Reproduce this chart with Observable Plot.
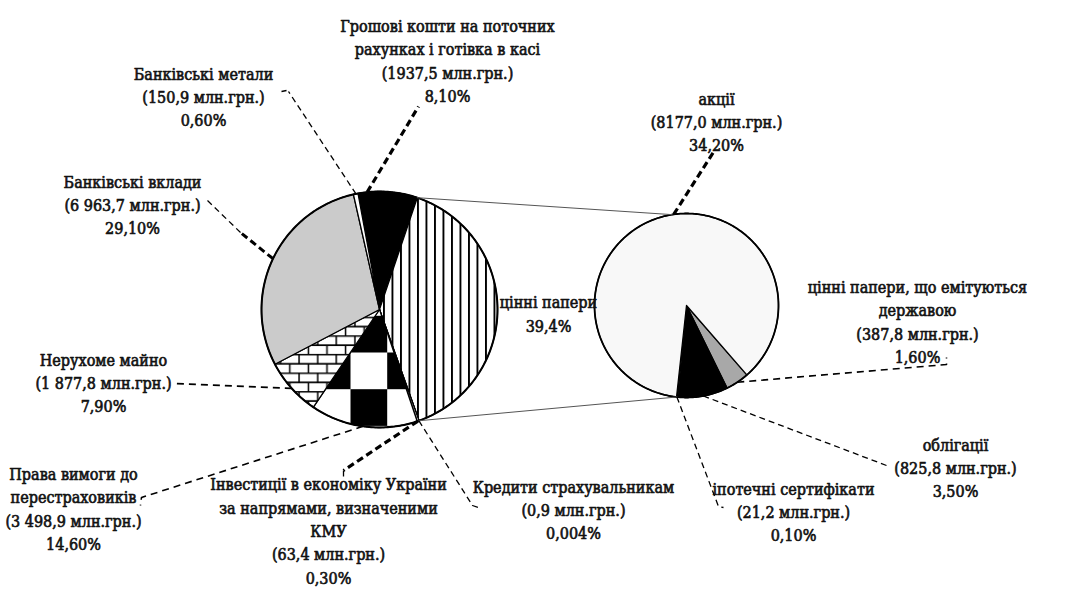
<!DOCTYPE html>
<html><head><meta charset="utf-8">
<script src="https://cdn.jsdelivr.net/npm/d3@7"></script>
<script src="https://cdn.jsdelivr.net/npm/@observablehq/plot@0.6"></script>
<style>body{margin:0;background:#fff;}</style>
</head><body><div id="chart"></div>
<script>
// ---------- DATA ----------
// Main pie (млн грн), clockwise from top-left
const mainKeys = ["money","securities","credits","invest","reins","realty","deposits","metals"];
const mainValues = [1937.5, 9411.8, 0.9, 63.4, 3498.9, 1877.8, 6963.7, 150.9];
const mainNames = [
  "Грошові кошти на поточних\nрахунках і готівка в касі",
  "цінні папери",
  "Кредити страхувальникам",
  "Інвестиції в економіку України\nза напрямами, визначеними\nКМУ",
  "Права вимоги до\nперестраховиків",
  "Нерухоме майно",
  "Банківські вклади",
  "Банківські метали"
];
const mainValueLabels = ["(1937,5 млн.грн.)", "", "(0,9 млн.грн.)", "(63,4 млн.грн.)", "(3 498,9 млн.грн.)", "(1 877,8 млн.грн.)", "(6 963,7 млн.грн.)", "(150,9 млн.грн.)"];
const mainShareLabels = ["8,10%", "39,4%", "0,004%", "0,30%", "14,60%", "7,90%", "29,10%", "0,60%"];

// Secondary pie: breakdown of securities
const secKeys = ["gov","bonds","mortgage","shares"];
const secValues = [387.8, 825.8, 21.2, 8177.0];
const secNames = ["цінні папери, що емітуються\nдержавою", "облігації", "іпотечні сертифікати", "акції"];
const secValueLabels = ["(387,8 млн.грн.)", "(825,8 млн.грн.)", "(21,2 млн.грн.)", "(8177,0 млн.грн.)"];
const secShareLabels = ["1,60%", "3,50%", "0,10%", "34,20%"];

// ---------- STYLE / LAYOUT ----------
const mainFill = {money:"black", securities:"url(#stripes)", credits:"white", invest:"white", reins:"url(#checker)", realty:"url(#bricks)", deposits:"#cbcbcb", metals:"white"};
const secFill = {gov:"#a8a8a8", bonds:"black", mortgage:"white", shares:"#f8f8f8"};
const LP = {cx:379, cy:309, r:118, start:-10.5};
const RP = {cx:686, cy:305, r:92, start:139};
const FONT = "'DejaVu Serif Condensed','DejaVu Serif',serif";

// label block centres
const mainLabelPos = {money:[447,59], securities:[548,312], credits:[573,508], invest:[328,529], reins:[73,507], realty:[103,381], deposits:[132,203], metals:[203,95]};
const secLabelPos = {gov:[917,320], bonds:[955,466], mortgage:[793,510], shares:[716,120]};

// leaders: pie attach angle (deg) + points toward the label
const leaderSpec = [
  {pie:LP, ang:-6, pts:[[418,106]], w:3.2, dash:"7,4"},
  {pie:LP, ang:-11.5, pts:[[288,91]], w:1.3, dash:"6,4"},
  {pie:LP, ang:-64.5, pts:[[240,232]], w:3, dash:"7,4"},
  {pie:LP, ang:228, pts:[[172,383]], w:1.8, dash:"7,5"},
  {pie:LP, ang:188, pts:[[141,497],[140,505]], w:1.6, dash:"7,5"},
  {pie:LP, ang:161, pts:[[343,470]], w:3.2, dash:"7,4"},
  {pie:LP, ang:160.5, pts:[[472,505],[478,507]], w:1.3, dash:"6,4"},
  {pie:RP, ang:-8, pts:[[714,150]], w:3.2, dash:"7,4"},
  {pie:RP, ang:146.5, pts:[[946,364],[946,357]], w:1.6, dash:"7,5"},
  {pie:RP, ang:186, pts:[[718,506],[723,507]], w:1.3, dash:"6,4"},
  {pie:RP, ang:169.5, pts:[[886,465]], w:1.3, dash:"6,4"}
];
// thin start segments / small ticks next to labels
const tickSpec = [
  [[207,200],[240,232]],
  [[281,91],[286,90]],
  [[343,470],[343,477]]
];
const connectorAngles = [[18.66, -9], [160.5, 186]];

// ---------- GEOMETRY FROM DATA ----------
const rad = d => d * Math.PI / 180;
const onPie = (P, a) => [P.cx + P.r * Math.sin(rad(a)), P.cy - P.r * Math.cos(rad(a))];
function slices(keys, values, P) {
  const total = d3.sum(values);
  let a = P.start;
  return keys.map((k, i) => {
    const span = values[i] / total * 360;
    const a0 = a, a1 = a + span; a = a1;
    const n = Math.max(2, Math.ceil(span / 0.5));
    const pts = [{x:P.cx, y:P.cy}];
    for (let j = 0; j <= n; j++) { const [x, y] = onPie(P, a0 + (a1 - a0) * j / n); pts.push({x, y}); }
    pts.push({x:P.cx, y:P.cy});
    return {key:k, pts, mid:(a0 + a1) / 2};
  });
}
const circle = P => d3.range(0, 361, 1).map(a => { const [x, y] = onPie(P, a); return {x, y}; });

const mainSlices = slices(mainKeys, mainValues, LP);
const secSlices = slices(secKeys, secValues, RP);

const labelRows = [];
mainKeys.forEach((k, i) => {
  const t = [mainNames[i], mainValueLabels[i], mainShareLabels[i]].filter(s => s).join("\n");
  labelRows.push({x:mainLabelPos[k][0], y:mainLabelPos[k][1], text:t});
});
secKeys.forEach((k, i) => {
  labelRows.push({x:secLabelPos[k][0], y:secLabelPos[k][1], text:[secNames[i], secValueLabels[i], secShareLabels[i]].join("\n")});
});

const marks = [];
mainSlices.forEach(s => marks.push(Plot.line(s.pts, {x:"x", y:"y", fill:mainFill[s.key], stroke:"black", strokeWidth:1.3, curve:"linear"})));
marks.push(Plot.line(circle(LP), {x:"x", y:"y", stroke:"black", strokeWidth:2, curve:"linear"}));
secSlices.forEach(s => marks.push(Plot.line(s.pts, {x:"x", y:"y", fill:secFill[s.key], stroke:"black", strokeWidth:1.3, curve:"linear"})));
marks.push(Plot.line(circle(RP), {x:"x", y:"y", stroke:"black", strokeWidth:1.8, curve:"linear"}));

connectorAngles.forEach(([a, b]) => {
  const [x1, y1] = onPie(LP, a), [x2, y2] = onPie(RP, b);
  marks.push(Plot.line([{x:x1, y:y1}, {x:x2, y:y2}], {x:"x", y:"y", stroke:"#555", strokeWidth:1}));
});

leaderSpec.forEach(l => {
  const [x0, y0] = onPie(l.pie, l.ang);
  const pts = [{x:x0, y:y0}, ...l.pts.map(([x, y]) => ({x, y}))];
  marks.push(Plot.line(pts, {x:"x", y:"y", stroke:"black", strokeWidth:l.w, strokeDasharray:l.dash, strokeLinecap:"butt"}));
});
tickSpec.forEach(t => marks.push(Plot.line(t.map(([x, y]) => ({x, y})), {x:"x", y:"y", stroke:"black", strokeWidth:1.3, strokeDasharray:"6,4", strokeLinecap:"butt"})));

marks.push(Plot.text(labelRows, {x:"x", y:"y", text:"text", fontSize:16, lineHeight:1.46, lineAnchor:"middle", textAnchor:"middle", fontFamily:FONT, fill:"#111", stroke:"#111", strokeWidth:0.6}));

const chart = Plot.plot({
  width:1088, height:591,
  margin:0,
  x:{domain:[0,1088], range:[0,1088], axis:null},
  y:{domain:[0,591], range:[0,591], axis:null},
  style:{background:"white", overflow:"visible"},
  marks
});

// ---------- PATTERNS ----------
const defs = d3.select(chart).insert("defs", ":first-child");
const st = defs.append("pattern").attr("id","stripes").attr("patternUnits","userSpaceOnUse").attr("width",8.5).attr("height",10);
st.append("rect").attr("width",8.5).attr("height",10).attr("fill","white");
st.append("rect").attr("x",0).attr("width",1.9).attr("height",10).attr("fill","black");
const cs = 36.7;
const ck = defs.append("pattern").attr("id","checker").attr("patternUnits","userSpaceOnUse").attr("x",350).attr("y",352).attr("width",2*cs).attr("height",2*cs);
ck.append("rect").attr("width",2*cs).attr("height",2*cs).attr("fill","white");
ck.append("rect").attr("x",cs).attr("y",0).attr("width",cs).attr("height",cs).attr("fill","black");
ck.append("rect").attr("x",0).attr("y",cs).attr("width",cs).attr("height",cs).attr("fill","black");
const bh = 9.3, bw = 18.6;
const br = defs.append("pattern").attr("id","bricks").attr("patternUnits","userSpaceOnUse").attr("width",bw).attr("height",2*bh);
br.append("rect").attr("width",bw).attr("height",2*bh).attr("fill","white");
br.append("path").attr("d",`M0,0.6H${bw}M0,${bh+0.6}H${bw}M1,0V${bh}M${1+bw/2},${bh}V${2*bh}`).attr("stroke","black").attr("stroke-width",1.5).attr("fill","none");

document.getElementById("chart").append(chart);
</script>
</body></html>
